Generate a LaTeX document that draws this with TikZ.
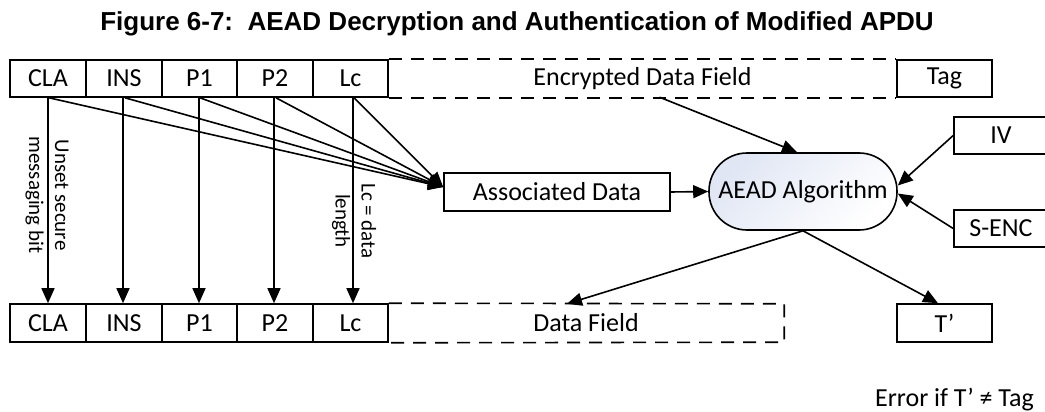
\documentclass[tikz,border=0pt]{standalone}
\usepackage{fontspec}
\setmainfont{Carlito}
\newfontfamily\titlefont{Liberation Sans}
\usetikzlibrary{arrows.meta}
\definecolor{aeadtint}{HTML}{E0E6F4}
\begin{document}
\begin{tikzpicture}[x=1pt,y=-1pt,
  txt/.style={font=\fontsize{26}{31}\selectfont},
  field/.style={txt, draw, line width=1.6pt, inner sep=0pt, minimum height=37pt},
  openfield/.style={txt, inner sep=0pt, minimum height=37pt},
  conn/.style={line width=1.6pt, -{Triangle[length=15pt,width=13pt]}},
  dashline/.style={line width=1.6pt, dash pattern=on 13pt off 9pt},
  sidelabel/.style={rotate=-90, align=center, inner sep=0pt, font=\fontsize{21}{26}\selectfont},
]
\clip (0,0) rectangle (1045,412);

% title
\node[font=\titlefont\bfseries\fontsize{26}{31}\selectfont] (title) at (517,24)
  {Figure 6-7:\ \ AEAD Decryption and Authentication of Modified APDU};

% incoming (protected) APDU
\node[field, minimum width=76pt] (cla) at (48,78.5) {CLA};
\node[field, minimum width=76pt] (ins) at (124,78.5) {INS};
\node[field, minimum width=75pt] (p1) at (199.5,78.5) {P1};
\node[field, minimum width=76pt] (p2) at (275,78.5) {P2};
\node[field, minimum width=75pt] (lc) at (350.5,78.5) {Lc};
\node[openfield, minimum width=509pt] (edf) at (642.5,78.5) {Encrypted Data Field};
\node[field, minimum width=95pt] (tag) at (944.5,78.5) {Tag};
\draw[dashline] (lc.north east) -- (tag.north west);
\draw[dashline] (lc.south east) -- (tag.south west);

% processing: pale tint in the upper left of the algorithm block
\node[field, minimum width=226pt, minimum height=38pt] (ad) at (557,192) {Associated Data};
\node[txt, draw, line width=1.6pt, inner sep=0pt, minimum width=188pt, minimum height=77pt,
      rounded corners=38pt, top color=aeadtint, bottom color=white, shading angle=45]
      (aead) at (803,191.5) {AEAD Algorithm};
\node[field, minimum width=94pt] (iv) at (1001,135.5) {IV};
\node[field, minimum width=94pt] (senc) at (1001,228.5) {S-ENC};

% resulting (unprotected) APDU
\node[field, minimum width=76pt, minimum height=38pt] (cla2) at (48,323) {CLA};
\node[field, minimum width=76pt, minimum height=38pt] (ins2) at (124,323) {INS};
\node[field, minimum width=75pt, minimum height=38pt] (p12) at (199.5,323) {P1};
\node[field, minimum width=76pt, minimum height=38pt] (p22) at (275,323) {P2};
\node[field, minimum width=75pt, minimum height=38pt] (lc2) at (350.5,323) {Lc};
\node[openfield, minimum width=396pt, minimum height=38pt] (df) at (586,323) {Data Field};
\draw[dashline] (lc2.north east) -- (df.north east) -- (df.south east) -- (lc2.south east);
\node[field, minimum width=95pt, minimum height=38pt] (tp) at (944.5,323) {T’};

\node[txt, anchor=east, inner sep=0pt] (err) at (1034,400) {Error if T’ ≠ Tag};

% header bytes feed the associated data
\draw[conn] ([xshift=1pt]cla.south) -- ([yshift=5pt]ad.west);
\draw[conn] ([xshift=1pt]ins.south) -- ([yshift=5pt]ad.west);
\draw[conn] ([xshift=0.5pt]p1.south) -- ([yshift=5pt]ad.west);
\draw[conn] ([xshift=1pt]p2.south) -- ([yshift=5pt]ad.west);
\draw[conn] ([xshift=3.5pt]lc.south) -- ([yshift=5pt]ad.west);

% header bytes copied to the output header
\draw[conn] (cla.south) -- (cla2.north);
\draw[conn] ([xshift=-1pt]ins.south) -- ([xshift=-1pt]ins2.north);
\draw[conn] ([xshift=-0.5pt]p1.south) -- ([xshift=-0.5pt]p12.north);
\draw[conn] ([xshift=-1pt]p2.south) -- ([xshift=-1pt]p22.north);
\draw[conn] ([xshift=2.5pt]lc.south) -- ([xshift=2.5pt]lc2.north);

\node[sidelabel] (lbl1) at (47,195) {Unset secure\\messaging bit};
\node[sidelabel] (lbl2) at (354,221) {Lc = data\\length};

% AEAD inputs and outputs
\draw[conn] (ad.east) -- (aead.west);
\draw[conn] ([xshift=17pt]edf.south) -- ([xshift=-6pt]aead.north);
\draw[conn] (iv.west) -- ([yshift=6pt]aead.east);
\draw[conn] (senc.west) -- ([yshift=-2pt]aead.east);
\draw[conn] (aead.south) -- ([xshift=-19pt]df.north);
\draw[conn] (aead.south) -- ([xshift=-6.5pt]tp.north);
\end{tikzpicture}
\end{document}
